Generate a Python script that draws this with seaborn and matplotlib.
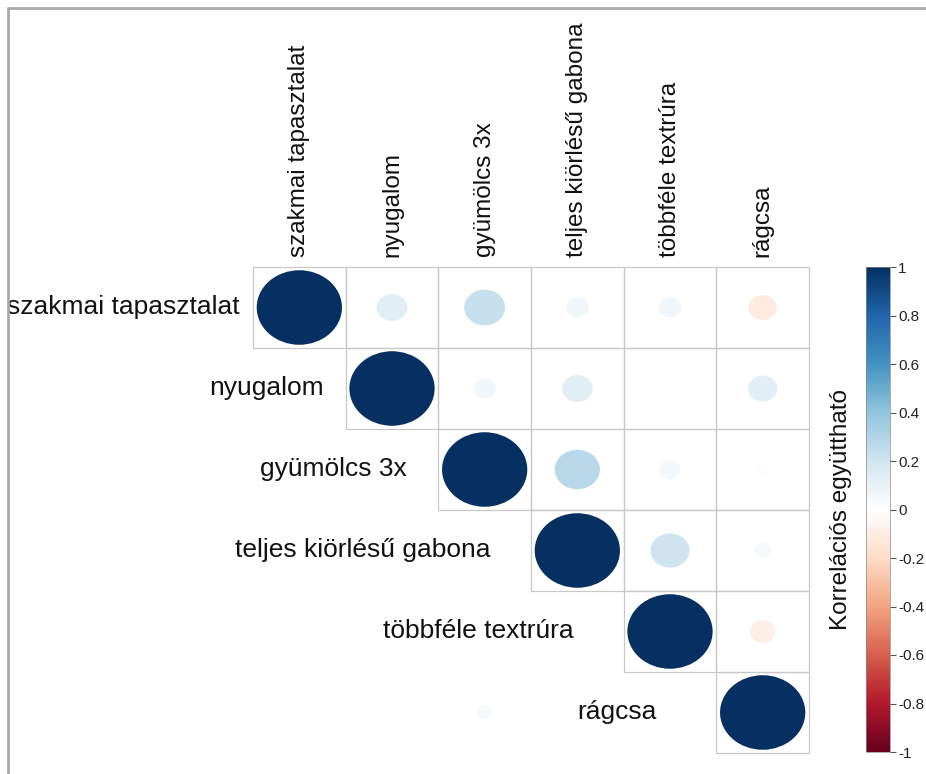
import numpy as np
import pandas as pd
import matplotlib
matplotlib.use("Agg")
import matplotlib.pyplot as plt
import seaborn as sns
from matplotlib.colors import LinearSegmentedColormap, ListedColormap, Normalize
from matplotlib.patches import Ellipse, Rectangle
from matplotlib.lines import Line2D

# Variable names
labels = ["szakmai tapasztalat", "nyugalom", "gyümölcs 3x",
          "teljes kiörlésű gabona", "többféle textrúra", "rágcsa"]

# Correlation values, one row per variable (upper triangle shown)
row_szakmai = [1.00, 0.13, 0.23, 0.07, 0.07, -0.11]
row_nyugalom = [0.13, 1.00, 0.07, 0.13, 0.00, 0.12]
row_gyumolcs = [0.23, 0.07, 1.00, 0.28, 0.06, 0.015]
row_gabona = [0.07, 0.13, 0.28, 1.00, 0.21, 0.04]
row_textura = [0.07, 0.00, 0.06, 0.21, 1.00, -0.09]
row_ragcsa = [-0.11, 0.12, 0.015, 0.04, -0.09, 1.00]

# One extra value drawn below the diagonal (rágcsa × gyümölcs 3x)
extra_cell = ("rágcsa", "gyümölcs 3x", 0.035)

corr = pd.DataFrame([row_szakmai, row_nyugalom, row_gyumolcs,
                     row_gabona, row_textura, row_ragcsa],
                    index=labels, columns=labels)

cb_ticks = [1, 0.8, 0.6, 0.4, 0.2, 0, -0.2, -0.4, -0.6, -0.8, -1]
cb_label = "Korrelációs együttható"

rdbu = LinearSegmentedColormap.from_list(
    "corr_rdbu",
    ["#67001F", "#B2182B", "#D6604D", "#F4A582", "#FDDBC7", "#FFFFFF",
     "#D1E5F0", "#92C5DE", "#4393C3", "#2166AC", "#053061"], N=256)
norm = Normalize(vmin=-1, vmax=1)

sns.set_style("white")
plt.rcParams["font.family"] = ["Liberation Sans", "DejaVu Sans"]

fig = plt.figure(figsize=(9.26, 7.74), dpi=100)
ax = fig.add_axes([253 / 926, 1 - 753 / 774, 556 / 926, 486 / 774])

n = len(labels)
lower = np.tril(np.ones((n, n), dtype=bool), k=-1)
sns.heatmap(corr, mask=lower, cmap=ListedColormap(["white"]), cbar=False,
            linewidths=0, ax=ax, square=False)

# Cell borders for the upper triangle
for i in range(n):
    for j in range(i, n):
        ax.add_patch(Rectangle((j, i), 1, 1, facecolor="none",
                               edgecolor="#C8C8C8", lw=0.9, zorder=2,
                               clip_on=False))

# Circles: area proportional to |r|
def add_circle(i, j, r):
    d = 0.92 * np.sqrt(abs(r))
    ax.add_patch(Ellipse((j + 0.5, i + 0.5), d, d,
                         facecolor=rdbu(norm(r)), edgecolor="none", zorder=3))

for i in range(n):
    for j in range(i, n):
        add_circle(i, j, corr.iloc[i, j])
add_circle(labels.index(extra_cell[0]), labels.index(extra_cell[1]), extra_cell[2])

ax.set_xlim(0, n)
ax.set_ylim(n, 0)

# Column labels on top, rotated
ax.xaxis.tick_top()
ax.set_xticks(np.arange(n) + 0.5)
ax.set_xticklabels(labels, rotation=90, fontsize=17.5, color="#111111")
ax.tick_params(axis="x", length=0, pad=7)
ax.set_yticks([])
ax.set_xlabel("")
ax.set_ylabel("")

# Row labels beside the diagonal
for i, lab in enumerate(labels):
    ax.text(i - 0.14 - 0.1 * i, i + 0.5, lab, ha="right", va="center",
            fontsize=19, color="#111111")

for s in ax.spines.values():
    s.set_visible(False)

# Colour bar
cax = fig.add_axes([866 / 926, 1 - 752 / 774, 24 / 926, 485 / 774])
sm = matplotlib.cm.ScalarMappable(norm=norm, cmap=rdbu)
cb = fig.colorbar(sm, cax=cax, ticks=cb_ticks)
cb.ax.set_yticklabels([f"{t:g}" for t in cb_ticks], fontsize=11, color="#222222")
cb.ax.tick_params(length=4, width=0.8, color="#555555", pad=2)
cb.outline.set_linewidth(0.5)
cb.outline.set_edgecolor("#888888")
cb.ax.yaxis.set_label_position("left")
cb.set_label(cb_label, fontsize=17.5, labelpad=10, color="#111111")

# Thin frame along the top and left
fig.add_artist(Line2D([8 / 926, 8 / 926], [0, 1 - 8 / 774],
                      transform=fig.transFigure, color="#AAAAAA", lw=2))
fig.add_artist(Line2D([8 / 926, 1], [1 - 8 / 774, 1 - 8 / 774],
                      transform=fig.transFigure, color="#AAAAAA", lw=2))

fig.savefig("out.png", dpi=100)
